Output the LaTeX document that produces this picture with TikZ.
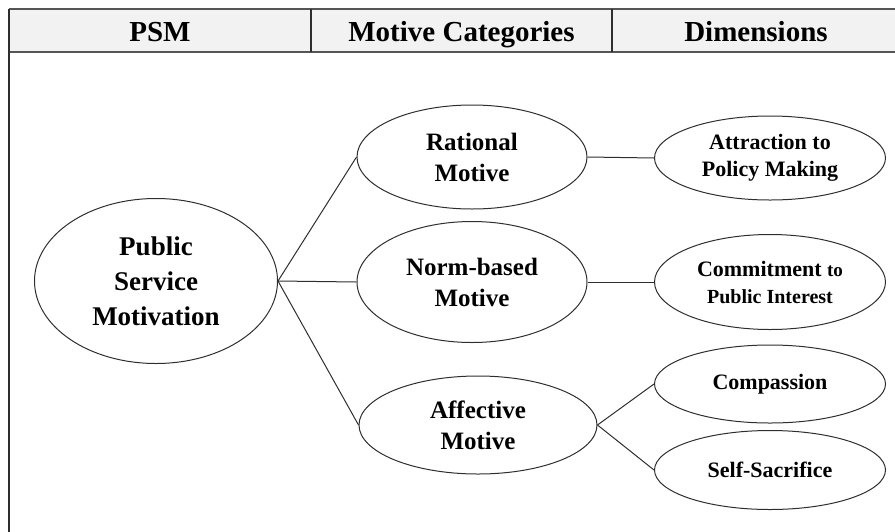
\documentclass[tikz,border=0pt]{standalone}
\usepackage{fontspec}
\setmainfont{Liberation Serif}
\usetikzlibrary{shapes.geometric}
\definecolor{linegray}{HTML}{2E2E2E}
\definecolor{headfill}{HTML}{F2F2F2}
\definecolor{rulegray}{HTML}{555555}
\begin{document}
\begin{tikzpicture}[x=1pt,y=-1pt]
\tikzset{
  oval/.style={ellipse, draw=linegray, line width=1pt, inner sep=0pt, align=center},
  conn/.style={draw=linegray, line width=1pt},
  headtxt/.style={font=\fontsize{29}{32}\selectfont\bfseries, inner sep=0pt, anchor=base},
  bigtxt/.style={font=\fontsize{27}{35}\selectfont\bfseries},
  midtxt/.style={font=\fontsize{25}{31}\selectfont\bfseries},
  smalltxt/.style={font=\fontsize{22}{27}\selectfont\bfseries}
}
\useasboundingbox (0,0) rectangle (895,531);
\clip (0,0) rectangle (895,531);
% frame and header
\fill[headfill] (9,9) rectangle (905,52);
\draw[rulegray, line width=2pt] (9,9) -- (905,9);
\draw[rulegray, line width=1.6pt] (9,52) -- (905,52);
\draw[linegray, line width=1.2pt] (9,9) -- (9,540);
\draw[linegray, line width=1.2pt] (311,9) -- (311,52);
\draw[linegray, line width=1.2pt] (612,9) -- (612,52);
\node[headtxt] (h1) at (160,41) {PSM};
\node[headtxt] (h2) at (461.5,41) {Motive Categories};
\node[headtxt] (h3) at (756,41) {Dimensions};
% ellipses
\node[oval, bigtxt, minimum width=243pt, minimum height=165pt] (psm) at (156,281) {Public\\Service\\Motivation};
\node[oval, midtxt, minimum width=230pt, minimum height=104pt] (rat) at (472,157) {Rational\\Motive};
\node[oval, midtxt, minimum width=230pt, minimum height=121pt] (norm) at (472,282) {Norm-based\\Motive};
\node[oval, midtxt, minimum width=238pt, minimum height=98pt] (aff) at (478,425) {Affective\\Motive};
\node[oval, smalltxt, minimum width=231pt, minimum height=84pt] (attr) at (770,158) {Attraction to\\Policy Making};
\node[oval, smalltxt, minimum width=231pt, minimum height=95pt] (comm) at (770,282) {Commitment {\fontsize{19}{27}\selectfont to}\\{\fontsize{20}{27}\selectfont Public Interest}};
\node[oval, smalltxt, minimum width=231pt, minimum height=78pt] (comp) at (770,384) {Compassion};
\node[oval, smalltxt, minimum width=231pt, minimum height=79pt] (self) at (770,470) {Self-Sacrifice};
% connectors
\draw[conn] (psm.east) -- (rat.west);
\draw[conn] (psm.east) -- (norm.west);
\draw[conn] (psm.east) -- (aff.west);
\draw[conn] (rat.east) -- (attr.west);
\draw[conn] (norm.east) -- (comm.west);
\draw[conn] (aff.east) -- (comp.west);
\draw[conn] (aff.east) -- (self.west);
\end{tikzpicture}
\end{document}
